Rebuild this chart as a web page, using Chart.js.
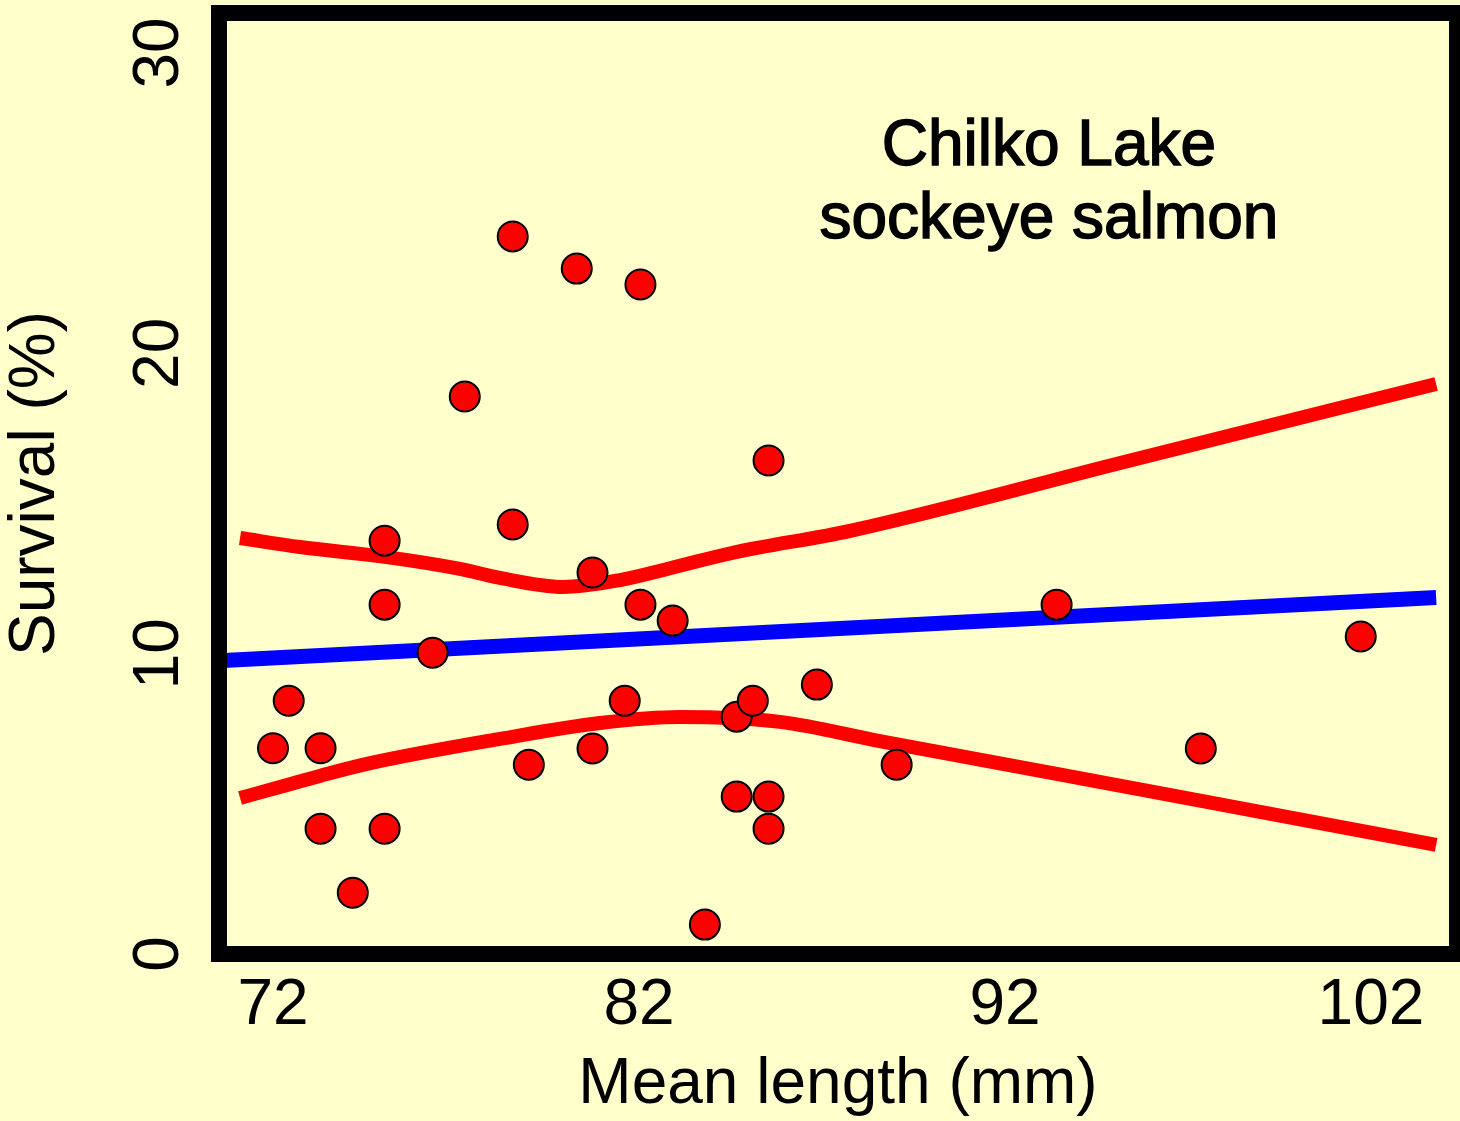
<!DOCTYPE html>
<html>
<head>
<meta charset="utf-8">
<script src="https://cdn.jsdelivr.net/npm/chart.js@4/dist/chart.umd.min.js"></script>
<style>
  body { margin: 0; background: #ffffcc; }
  canvas { display: block; }
</style>
</head>
<body>
<canvas id="chart" width="1460" height="1121"></canvas>
<script>
// survival vs smolt length
const lengthMm = [72.00, 72.43, 73.30, 73.30, 74.18, 75.05, 75.05, 75.05, 76.36, 77.24,
  78.55, 78.55, 78.99, 80.30, 80.73, 80.73, 81.61, 82.04, 82.04, 82.92,
  83.80, 84.67, 84.67, 85.11, 85.54, 85.54, 85.54, 86.86, 89.04, 93.41,
  97.35, 101.72];
const survivalPct = [6.85, 8.43, 6.85, 4.17, 2.04, 13.76, 11.63, 4.17, 10.03, 18.56,
  23.89, 14.30, 6.30, 22.82, 12.70, 6.84, 8.43, 22.29, 11.63, 11.10,
  0.98, 7.90, 5.24, 8.43, 16.43, 5.24, 4.17, 8.97, 6.30, 11.63,
  6.84, 10.57];

// regression line
const fitX = [70.52, 103.78];
const fitY = [9.76, 11.87];

// confidence band
const upperX = [71.10, 72.74, 75.06, 77.11, 78.20, 79.92, 81.48, 82.77, 84.57, 87.77, 95.31, 103.78];
const upperY = [13.85, 13.55, 13.22, 12.82, 12.52, 12.22, 12.45, 12.82, 13.36, 14.09, 16.40, 18.98];
const lowerX = [71.10, 73.28, 74.57, 78.20, 80.93, 83.12, 85.85, 88.58, 97.33, 103.78];
const lowerY = [5.19, 5.93, 6.33, 7.16, 7.69, 7.89, 7.73, 7.09, 5.11, 3.63];

const xTicks = [72, 82, 92, 102];
const yTicks = [0, 10, 20, 30];

const noteLines = ['Chilko Lake', 'sockeye salmon'];
const noteX = 93.2;
const noteY = [26.27, 23.84];

const toPoints = (xs, ys) => xs.map((x, i) => ({ x: x, y: ys[i] }));
const FONT = "'Liberation Sans', Arial, sans-serif";

// drop the extra room chart.js keeps for the end tick labels
const noPadding = (scale) => {
  scale.paddingTop = 0;
  scale.paddingBottom = 0;
  scale.paddingLeft = 0;
  scale.paddingRight = 0;
};

const framePlugin = {
  id: 'frame',
  beforeDraw(chart) {
    const ctx = chart.ctx;
    ctx.save();
    ctx.fillStyle = '#ffffcc';
    ctx.fillRect(0, 0, chart.width, chart.height);
    ctx.restore();
  },
  afterDatasetsDraw(chart) {
    const { ctx, chartArea, scales } = chart;
    ctx.save();
    ctx.strokeStyle = '#000';
    ctx.lineWidth = 16;
    ctx.strokeRect(chartArea.left, chartArea.top, chartArea.right - chartArea.left, chartArea.bottom - chartArea.top);

    ctx.font = '64px ' + FONT;
    ctx.textAlign = 'center';
    ctx.textBaseline = 'alphabetic';
    ctx.fillStyle = '#000';
    ctx.strokeStyle = '#000';
    ctx.lineWidth = 1.5;
    noteLines.forEach((line, i) => {
      const px = scales.x.getPixelForValue(noteX);
      const py = scales.y.getPixelForValue(noteY[i]);
      ctx.fillText(line, px, py);
      ctx.strokeText(line, px, py);
    });
    ctx.restore();
  }
};

new Chart(document.getElementById('chart'), {
  type: 'scatter',
  data: {
    datasets: [
      {
        label: 'Survival',
        data: toPoints(lengthMm, survivalPct),
        backgroundColor: '#ff0000',
        borderColor: '#000',
        borderWidth: 2,
        pointRadius: 15,
        order: 0,
      },
      {
        label: 'Regression',
        data: toPoints(fitX, fitY),
        showLine: true,
        borderColor: '#0000ff',
        borderWidth: 15,
        pointRadius: 0,
        order: 1,
      },
      {
        label: 'Upper',
        data: toPoints(upperX, upperY),
        showLine: true,
        borderColor: '#ff0000',
        borderWidth: 14,
        pointRadius: 0,
        cubicInterpolationMode: 'monotone',
        order: 2,
      },
      {
        label: 'Lower',
        data: toPoints(lowerX, lowerY),
        showLine: true,
        borderColor: '#ff0000',
        borderWidth: 14,
        pointRadius: 0,
        cubicInterpolationMode: 'monotone',
        order: 3,
      }
    ]
  },
  options: {
    responsive: false,
    animation: false,
    layout: { autoPadding: false, padding: { top: 13, right: 3, left: 0, bottom: 0 } },
    plugins: {
      legend: { display: false },
      tooltip: { enabled: false },
    },
    scales: {
      x: {
        type: 'linear',
        min: 70.525,
        max: 104.35,
        afterBuildTicks: (scale) => { scale.ticks = xTicks.map(v => ({ value: v })); },
        afterFit: (scale) => { scale.height = 167; noPadding(scale); },
        grid: { display: false, drawTicks: false },
        border: { display: false },
        ticks: { color: '#000', padding: 14, maxRotation: 0, font: { family: FONT, size: 64 } },
        title: {
          display: true,
          text: 'Mean length (mm)',
          color: '#000',
          padding: 0,
          font: { family: FONT, size: 64, lineHeight: 1.1 },
        },
      },
      y: {
        type: 'linear',
        min: 0,
        max: 31.33,
        afterBuildTicks: (scale) => { scale.ticks = yTicks.map(v => ({ value: v })); },
        afterFit: (scale) => { scale.width = 219; noPadding(scale); },
        grid: { display: false, drawTicks: false },
        border: { display: false },
        ticks: {
          color: '#000',
          padding: 23,
          minRotation: 90,
          maxRotation: 90,
          crossAlign: 'center',
          font: { family: FONT, size: 64 },
        },
        title: {
          display: true,
          text: 'Survival (%)',
          color: '#000',
          padding: 0,
          font: { family: FONT, size: 64, lineHeight: 1.15 },
        },
      },
    },
  },
  plugins: [framePlugin],
});
</script>
</body>
</html>
